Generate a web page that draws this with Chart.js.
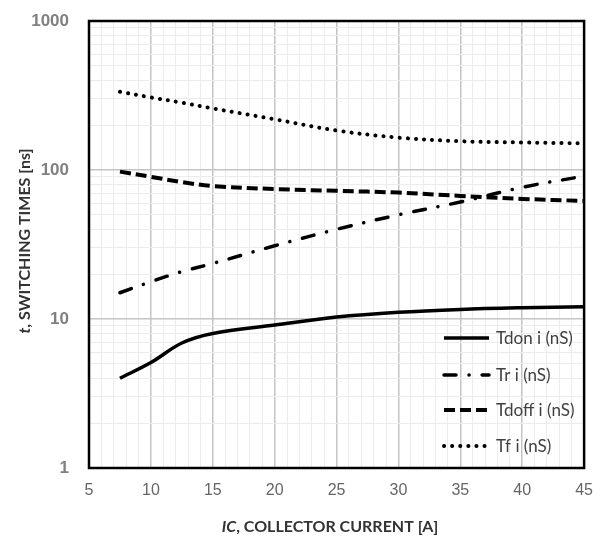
<!DOCTYPE html>
<html>
<head>
<meta charset="utf-8">
<script src="https://cdn.jsdelivr.net/npm/chart.js@4/dist/chart.umd.min.js"></script>
<style>
  body { margin: 0; background: #fff; }
  canvas { display: block; }
</style>
</head>
<body>
<canvas id="chart" width="606" height="545"></canvas>
<script>
// --- Data ---
const currentA = [7.5, 10, 12.5, 15, 20, 25, 30, 35, 40, 45];
const tdon  = [4.0, 5.1, 6.9, 8.0, 9.1, 10.3, 11.1, 11.6, 11.9, 12.1];
const tr    = [15.0, 17.8, 20.8, 23.6, 31, 40, 50, 61, 76.5, 91];
const tdoff = [97.5, 90, 83, 78, 74.5, 72.5, 70.5, 67, 64, 62];
const tf    = [335, 307, 283, 259, 219, 184, 165, 156, 153, 151];

const seriesLabels = ['Tdon i (nS)', 'Tr i (nS)', 'Tdoff i (nS)', 'Tf i (nS)'];
const xTickLabels = [5, 10, 15, 20, 25, 30, 35, 40, 45];
const yTickLabels = [1, 10, 100, 1000];

const MAJOR_GRID = '#c4c4c4';
const MINOR_GRID = '#ececec';
const TICK_FONT = '"Liberation Sans", Arial, sans-serif';

function points(ys) {
    return currentA.map((x, i) => ({ x: x, y: ys[i] }));
}

// draws a line of text made of normal / italic pieces, centred on x
function drawRich(ctx, parts, x, y, size) {
    const fontFor = p => (p.italic ? 'italic ' : '') + 'bold ' + size + 'px Lato, "Open Sans", sans-serif';
    let total = 0;
    parts.forEach(p => { ctx.font = fontFor(p); total += ctx.measureText(p.text).width; });
    let cx = x - total / 2;
    parts.forEach(p => {
        ctx.font = fontFor(p);
        ctx.fillText(p.text, cx, y);
        cx += ctx.measureText(p.text).width;
    });
}

const decorPlugin = {
    id: 'decor',
    afterDatasetsDraw(chart) {
        const { ctx, chartArea: a } = chart;
        ctx.save();

        // legend inside the plot, lower right
        const rowY = [338, 375, 410, 446];
        ctx.textBaseline = 'middle';
        ctx.textAlign = 'left';
        chart.data.datasets.forEach((ds, i) => {
            ctx.beginPath();
            ctx.lineWidth = ds.borderWidth;
            ctx.lineCap = ds.borderCapStyle;
            ctx.setLineDash(ds.borderDash);
            ctx.strokeStyle = ds.borderColor;
            ctx.moveTo(444, rowY[i]);
            ctx.lineTo(489, rowY[i]);
            ctx.stroke();
            ctx.setLineDash([]);
            ctx.fillStyle = '#404040';
            ctx.font = '17px Lato, "Open Sans", sans-serif';
            ctx.fillText(ds.label, 496, rowY[i] + 1);
        });

        // plot frame
        ctx.strokeStyle = '#000';
        ctx.lineWidth = 2.5;
        ctx.strokeRect(a.left, a.top, a.right - a.left, a.bottom - a.top);

        // axis titles
        ctx.fillStyle = '#333';
        ctx.textBaseline = 'middle';
        ctx.textAlign = 'left';
        drawRich(ctx, [{ text: 'IC', italic: true }, { text: ', COLLECTOR CURRENT [A]' }], 330, 527, 16);
        ctx.translate(25, 241);
        ctx.rotate(-Math.PI / 2);
        drawRich(ctx, [{ text: 't', italic: true }, { text: ', SWITCHING TIMES [ns]' }], 0, 0, 16);

        ctx.restore();
    }
};

const ctx = document.getElementById('chart').getContext('2d');

new Chart(ctx, {
    type: 'line',
    data: {
        datasets: [
            { label: seriesLabels[0], data: points(tdon), borderColor: '#000', borderWidth: 3.5,
              borderDash: [], borderCapStyle: 'butt' },
            { label: seriesLabels[1], data: points(tr), borderColor: '#000', borderWidth: 3.5,
              borderDash: [12, 13, 0.1, 13], borderCapStyle: 'round' },
            { label: seriesLabels[2], data: points(tdoff), borderColor: '#000', borderWidth: 4,
              borderDash: [11, 5], borderCapStyle: 'butt' },
            { label: seriesLabels[3], data: points(tf), borderColor: '#000', borderWidth: 4,
              borderDash: [0.1, 8], borderCapStyle: 'round' }
        ]
    },
    options: {
        responsive: false,
        devicePixelRatio: 1,
        animation: false,
        layout: { padding: { left: 0, top: 21, right: 18, bottom: 0 } },
        elements: {
            point: { radius: 0 },
            line: { tension: 0.35, fill: false }
        },
        plugins: {
            legend: { display: false },
            tooltip: { enabled: false }
        },
        scales: {
            x: {
                type: 'linear',
                min: 5,
                max: 45,
                afterFit: s => { s.height = 77; },
                afterBuildTicks: s => {
                    const t = [];
                    for (let v = 5; v <= 45; v++) t.push({ value: v });
                    s.ticks = t;
                },
                ticks: {
                    autoSkip: false,
                    maxRotation: 0,
                    padding: 13,
                    color: '#666666',
                    font: { family: TICK_FONT, size: 16 },
                    callback: v => xTickLabels.includes(v) ? String(v) : ''
                },
                grid: {
                    drawTicks: false,
                    color: c => xTickLabels.includes(c.tick.value) ? MAJOR_GRID : MINOR_GRID,
                    lineWidth: c => xTickLabels.includes(c.tick.value) ? 1.5 : 1
                },
                border: { display: false }
            },
            y: {
                type: 'logarithmic',
                min: 1,
                max: 1000,
                afterFit: s => {
                    s.width = 89;
                    // the tick padding would otherwise push the plot down
                    s.paddingTop = 0;
                    s.paddingBottom = 0;
                },
                afterBuildTicks: s => {
                    const t = [];
                    for (let e = 0; e < 3; e++) {
                        for (let m = 1; m < 10; m++) t.push({ value: m * Math.pow(10, e) });
                    }
                    t.push({ value: 1000 });
                    s.ticks = t;
                },
                ticks: {
                    autoSkip: false,
                    padding: 20,
                    color: '#808080',
                    font: { family: TICK_FONT, size: 17, weight: 'bold' },
                    callback: v => yTickLabels.includes(v) ? String(v) : ''
                },
                grid: {
                    drawTicks: false,
                    color: c => yTickLabels.includes(c.tick.value) ? MAJOR_GRID : MINOR_GRID,
                    lineWidth: c => yTickLabels.includes(c.tick.value) ? 1.5 : 1
                },
                border: { display: false }
            }
        }
    },
    plugins: [decorPlugin]
});
</script>
</body>
</html>
